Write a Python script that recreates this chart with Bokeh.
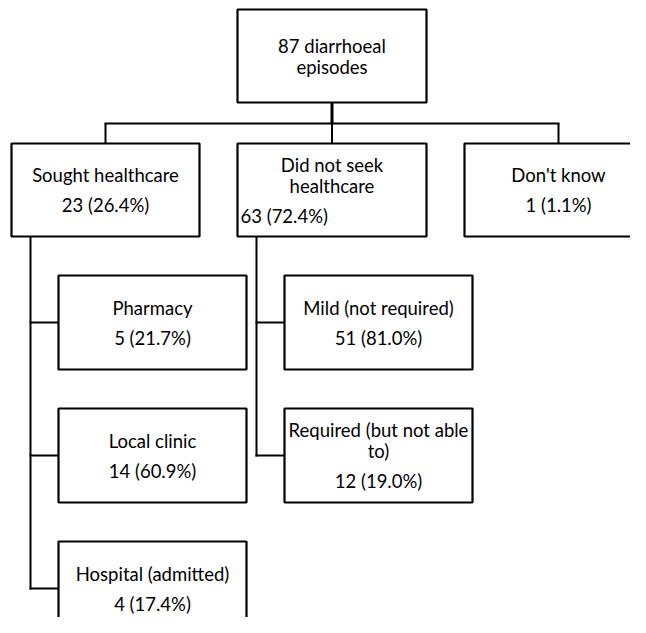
from bokeh.plotting import figure
from bokeh.models import Range1d
from bokeh.embed import file_html
from bokeh.resources import INLINE
from bokeh.core.properties import value

# ---- data ----
node_ids = ["root", "sought", "notseek", "dontknow", "pharmacy", "clinic", "hospital", "mild", "required"]
node_labels = ["87 diarrhoeal episodes", "Sought healthcare", "Did not seek healthcare", "Don't know",
               "Pharmacy", "Local clinic", "Hospital (admitted)", "Mild (not required)",
               "Required (but not able to)"]
counts = [87, 23, 63, 1, 5, 14, 4, 51, 12]
percents = [None, 26.4, 72.4, 1.1, 21.7, 60.9, 17.4, 81.0, 19.0]
parents = [None, "root", "root", "root", "sought", "sought", "sought", "notseek", "notseek"]

# ---- layout (pixel space, y downwards) ----
layout = {
    "root": (331.5, 55.5, 189, 93),
    "sought": (105, 189.5, 188, 93),
    "notseek": (331.5, 189.5, 189, 93),
    "dontknow": (558, 189.5, 188, 93),
    "pharmacy": (152, 322, 188, 94),
    "clinic": (152, 455, 188, 94),
    "hospital": (152, 588, 188, 94),
    "mild": (378, 322, 188, 94),
    "required": (378, 455, 188, 94),
}
wraps = {
    "root": ["87 diarrhoeal", "episodes"],
    "notseek": ["Did not seek", "healthcare"],
    "required": ["Required (but not able", "to)"],
}
left_aligned_count = {"notseek"}
LINE_GAP = 21
PARA_GAP = 30
FONT = "Lato"
FSIZE = "18.5px"

p = figure(width=630, height=617, output_backend="svg", toolbar_location=None,
           x_range=Range1d(0, 630), y_range=Range1d(617, 0),
           x_axis_location=None, y_axis_location=None, min_border=0)
p.grid.visible = False
p.outline_line_color = None
p.background_fill_color = "white"
p.border_fill_color = "white"

# connectors
xs, ys = [], []
root = layout["root"]
lvl2 = [n for n, par in zip(node_ids, parents) if par == "root"]
bus_y = 123
p.line([root[0], root[0]], [root[1] + root[3] / 2, bus_y], line_color="black", line_width=3)
lx = [layout[n][0] for n in lvl2]
xs.append([min(lx) - 1, max(lx) + 1]); ys.append([bus_y, bus_y])
for n in lvl2:
    c = layout[n]
    xs.append([c[0], c[0]]); ys.append([bus_y, c[1] - c[3] / 2])
for par in ["sought", "notseek"]:
    pc = layout[par]
    kids = [n for n, pp in zip(node_ids, parents) if pp == par]
    sx = pc[0] - pc[2] / 2 + 19
    last_y = max(layout[k][1] for k in kids)
    xs.append([sx, sx]); ys.append([pc[1] + pc[3] / 2, last_y + 1])
    for k in kids:
        kc = layout[k]
        xs.append([sx - 1, kc[0] - kc[2] / 2]); ys.append([kc[1], kc[1]])
p.multi_line(xs, ys, line_color="black", line_width=2)

# boxes
p.quad(left=[layout[n][0] - layout[n][2] / 2 for n in node_ids],
       right=[layout[n][0] + layout[n][2] / 2 for n in node_ids],
       top=[layout[n][1] - layout[n][3] / 2 for n in node_ids],
       bottom=[layout[n][1] + layout[n][3] / 2 for n in node_ids],
       fill_color="white", line_color="black", line_width=2.2)

# texts
tx_c, ty_c, tt_c = [], [], []
tx_l, ty_l, tt_l = [], [], []
for n, lab, cnt, pct in zip(node_ids, node_labels, counts, percents):
    cx, cy, w, h = layout[n]
    lines = wraps.get(n, [lab])
    paras = [lines]
    if pct is not None:
        paras.append([f"{cnt} ({pct:.1f}%)"])
    total = (sum(len(pp) for pp in paras) - len(paras)) * LINE_GAP + (len(paras) - 1) * PARA_GAP
    y = cy - total / 2
    for pi, para in enumerate(paras):
        for li, line in enumerate(para):
            if pi == 1 and n in left_aligned_count:
                tx_l.append(cx - w / 2 + 3); ty_l.append(y); tt_l.append(line)
            else:
                tx_c.append(cx); ty_c.append(y); tt_c.append(line)
            if li < len(para) - 1:
                y += LINE_GAP
        y += PARA_GAP

p.text(tx_c, ty_c, text=tt_c, text_align="center", text_baseline="middle",
       text_font=value(FONT), text_font_size=FSIZE, text_color="black")
p.text(tx_l, ty_l, text=tt_l, text_align="left", text_baseline="middle",
       text_font=value(FONT), text_font_size=FSIZE, text_color="black")

open("out.html", "w").write(file_html(p, INLINE))
